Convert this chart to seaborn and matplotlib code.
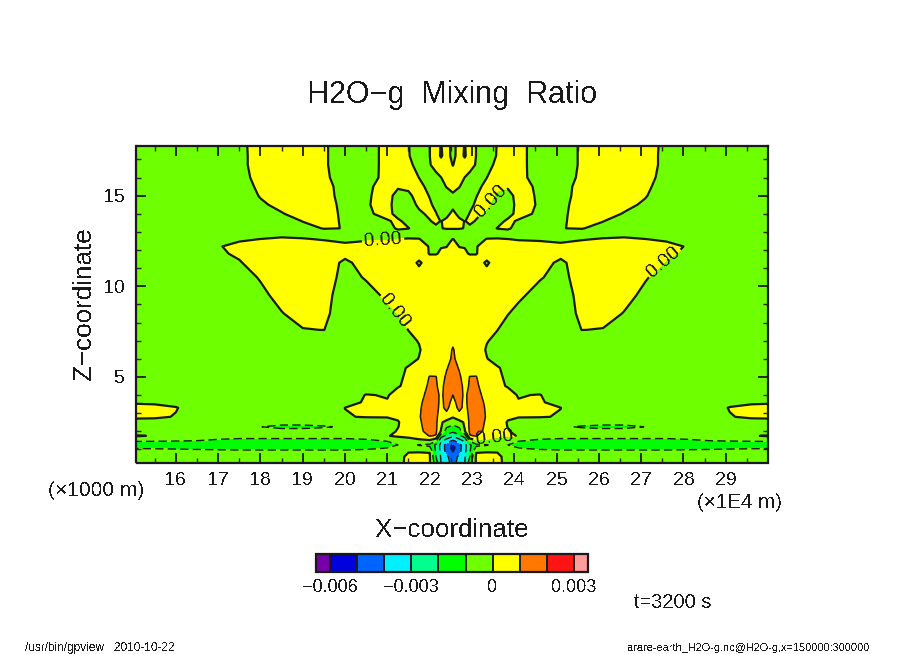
import numpy as np
import matplotlib
matplotlib.use('Agg')
import matplotlib.pyplot as plt
import seaborn as sns

# x positions of the left half (1E4 m), the field is mirrored about the last one
x_half = [15, 15.5, 16, 16.5, 17, 17.5, 18, 18.5, 19, 19.5, 20, 20.5, 21, 21.25,
          21.5, 21.75, 22, 22.15, 22.27, 22.4, 22.55]
z_rows = [17.75, 17.2, 16.7, 16, 15.5, 15, 14.5, 14, 13.6, 13.2, 12.9, 12.6, 12.2,
          11.8, 11.3, 10.5, 9.5, 8.5, 7.6, 7, 6.5, 6, 5.5, 5, 4.5, 4, 3.6, 3.3,
          2.8, 2.5, 2.25, 2, 1.75, 1.45, 1.25, 1.05, 0.85, 0.6, 0.25]

# mixing ratio, unit 1e-3, one row per z, top to bottom
mix_rows = [
    [-.5, -.5, -.5, -.5, -.5, -.2, .33, .5, .5, .1, -.4, -.3, .2, .5, .03, -.4, -.01, .4, -.05, .4, -.3],
    [-.5, -.5, -.5, -.5, -.5, -.2, .3, .5, .5, .1, -.4, -.3, .2, .5, .05, -.4, -.01, .4, -.1, .35, -.25],
    [-.5, -.5, -.5, -.5, -.5, -.2, .3, .5, .5, .1, -.4, -.3, .2, .5, .1, -.15, -.05, .25, .4, .35, -.03],
    [-.5, -.5, -.5, -.5, -.5, -.3, .28, .5, .5, .2, -.5, -.35, .25, .5, .4, -.01, -.4, -.2, -.01, .25, .4],
    [-.5, -.5, -.5, -.5, -.5, -.35, .15, .5, .5, .25, -.3, -.15, .3, .1, .1, .2, -.2, -.4, -.25, .03, .2],
    [-.5, -.5, -.5, -.5, -.5, -.45, .05, .4, .5, .25, -.25, -.1, .3, -.3, -.1, .2, -.02, -.4, -.5, -.3, -.1],
    [-.5, -.5, -.5, -.5, -.5, -.5, -.12, .2, .5, .3, -.2, -.05, .2, -.3, -.25, .1, .06, -.1, -.4, -.4, -.2],
    [-.5, -.5, -.5, -.5, -.5, -.5, -.4, -.05, .3, .2, -.1, -.1, .18, -.2, -.25, -.1, .1, .02, -.15, -.2, .18],
    [-.5, -.5, -.5, -.5, -.5, -.5, -.5, -.3, .02, .12, -.05, -.3, -.05, .1, -.2, -.3, -.03, .1, -.02, .15, .3],
    [-.5, -.5, -.5, -.5, -.5, -.5, -.5, -.5, -.2, .03, -.01, -.4, -.3, .12, .02, -.3, -.2, -.1, -.02, .05, .05],
    [-.5, -.5, -.5, -.5, -.5, -.5, -.3, -.2, -.25, -.3, -.4, -.4, -.4, -.4, -.3, -.3, -.4, -.4, -.4, -.4, -.4],
    [-.5, -.5, -.5, -.5, -.5, -.1, .01, .1, .05, -.05, -.2, -.1, -.05, .01, .05, .03, -.3, -.4, -.4, -.2, .02],
    [-.5, -.5, -.5, -.5, -.05, .2, .4, .5, .5, .3, .2, .3, .3, .35, .4, .35, -.05, -.2, -.03, -.02, .3],
    [-.5, -.5, -.5, -.5, -.1, .1, .4, .5, .5, .4, .2, .4, .5, .5, .5, .5, -.05, -.05, .1, .2, .5],
    [-.5, -.5, -.5, -.5, -.5, -.05, .3, .5, .5, .4, -.15, .3, .5, .5, .5, -.16, .5, .5, .5, .5, .5],
    [-.5, -.5, -.5, -.5, -.5, -.25, .05, .4, .5, .3, -.2, .05, .4, .5, .5, .5, .5, .5, .5, .5, .5],
    [-.5, -.5, -.5, -.5, -.5, -.5, -.15, .2, .5, .2, -.3, -.2, .1, .3, .5, .5, .5, .5, .5, .55, .55],
    [-.5, -.5, -.5, -.5, -.5, -.5, -.35, -.03, .25, .1, -.25, -.4, -.15, .02, .2, .4, .5, .5, .55, .6, .6],
    [-.5, -.5, -.5, -.5, -.5, -.5, -.5, -.3, -.03, .01, -.4, -.5, -.35, -.2, .01, .3, .5, .55, .55, .6, .6],
    [-.5, -.5, -.5, -.5, -.5, -.5, -.5, -.5, -.5, -.5, -.5, -.5, -.5, -.35, -.12, .03, .45, .5, .55, .6, .8],
    [-.5, -.5, -.5, -.5, -.5, -.5, -.5, -.5, -.5, -.5, -.5, -.5, -.5, -.45, -.4, -.05, .3, .4, .5, .6, 1.08],
    [-.5, -.5, -.5, -.5, -.5, -.5, -.5, -.5, -.5, -.5, -.5, -.5, -.5, -.3, -.2, .02, .4, .45, .55, .7, 1.15],
    [-.5, -.5, -.5, -.5, -.5, -.5, -.5, -.5, -.5, -.5, -.5, -.5, -.4, -.15, .05, .4, .7, .7, .65, .95, 1.25],
    [-.5, -.5, -.5, -.5, -.5, -.5, -.5, -.5, -.5, -.5, -.5, -.5, -.35, -.08, .08, .5, 1.03, 1.02, .75, 1.1, 1.3],
    [-.5, -.5, -.5, -.5, -.5, -.5, -.5, -.5, -.5, -.5, -.5, -.5, -.35, -.05, .15, .7, 1.1, 1.05, .85, 1.2, 1.3],
    [-.5, -.5, -.5, -.5, -.5, -.5, -.5, -.5, -.5, -.5, -.5, .04, -.05, .25, .5, .7, 1.3, 1.15, .9, 1.2, 1.0],
    [-.1, -.15, -.3, -.5, -.5, -.5, -.5, -.5, -.5, -.5, -.3, .1, .05, .4, .55, .85, 1.35, 1.2, .85, 1.2, .85],
    [.3, .25, .05, -.4, -.5, -.5, -.5, -.5, -.5, -.5, .005, .4, .5, .5, .55, .9, 1.4, 1.2, .8, 1.2, .6],
    [.1, .15, -.05, -.5, -.5, -.5, -.5, -.5, -.5, -.5, -.03, .03, .04, .1, .5, .95, 1.35, 1.2, .5, .7, .1],
    [-.2, -.4, -.5, -.5, -.5, -.55, -.55, -.6, -.6, -.55, -.4, -.35, -.3, -.05, .35, .9, 1.35, 1.2, .15, -.4, -.7],
    [-.5, -.5, -.5, -.5, -.55, -.6, -.98, -1.25, -1.25, -1.1, -.85, -.5, -.3, -.02, .3, .85, 1.35, 1.2, .1, -.9, -1.2],
    [-.5, -.5, -.5, -.5, -.5, -.55, -.55, -.6, -.6, -.6, -.55, -.5, -.2, .05, .3, .8, 1.3, 1.15, -.1, -1.5, -1.8],
    [.1, -.07, -.55, -.6, -.65, -.7, -.7, -.7, -.7, -.7, -.7, -.65, -.05, .15, .2, .5, 1.05, .95, -1.6, -2.2, -2.8],
    [-.98, -1, -1.02, -1.05, -1.2, -1.3, -1.3, -1.3, -1.3, -1.3, -1.3, -1.2, -1.0, -.75, -.4, -.3, -.3, -1, -2.9, -3.6, -4.3],
    [-1.4, -1.4, -1.5, -1.5, -1.6, -1.6, -1.6, -1.6, -1.6, -1.6, -1.6, -1.5, -1.2, -1.0, -.7, -1.05, -1.2, -2.2, -3.3, -4.4, -5.2],
    [-1, -1.02, -1.05, -1.1, -1.15, -1.2, -1.2, -1.2, -1.2, -1.2, -1.2, -1.1, -.95, -.7, -.5, -.7, -.7, -2.2, -3.3, -4.4, -5.3],
    [-.7, -.7, -.7, -.7, -.7, -.7, -.7, -.7, -.7, -.7, -.7, -.7, -.6, -.45, -.02, -.02, -.02, -2.1, -3.2, -4.3, -5],
    [-.55, -.55, -.55, -.55, -.55, -.55, -.55, -.55, -.55, -.55, -.55, -.55, -.45, -.3, .2, .5, .1, -2, -3.1, -3.8, -4.5],
    [-.5, -.5, -.5, -.5, -.5, -.5, -.5, -.5, -.5, -.5, -.5, -.5, -.4, -.25, .2, .5, .1, -1.5, -3, -3.5, -4.5],
]

levels = [-0.006, -0.005, -0.004, -0.003, -0.002, -0.001, 0, 0.001, 0.002, 0.003]
shade_colors = ['#7800aa', '#0000dc', '#0064ff', '#00f0ff', '#00ff8c', '#00ff00',
                '#6eff00', '#ffff00', '#ff7800', '#ff1414', '#ff9b9b']
bar_ticks = [-0.006, -0.003, 0, 0.003]
bar_labels = ['\u22120.006', '\u22120.003', '0', '0.003']
x_ticks = list(range(16, 30))
z_ticks = [5, 10, 15]
label_spots = [(20.9, 12.6), (21.17, 8.6), (23.53, 1.6), (23.58, 14.6), (27.55, 11.3)]

sns.set_theme(style='white')
plt.rcParams['font.family'] = ['Liberation Sans', 'DejaVu Sans']
plt.rcParams['text.antialiased'] = False

W, H = 904, 654
palette = sns.color_palette(shade_colors)

# mirror the half section
xh = np.array(x_half)
x = np.concatenate([xh, 2 * xh[-1] - xh[-2::-1]])
half = np.array(mix_rows)[::-1] * 1e-3
field = np.hstack([half, half[:, -2::-1]])
z = np.array(z_rows)[::-1]

fig = plt.figure(figsize=(W / 100, H / 100), dpi=100)
ax = fig.add_axes([136.5 / W, 1 - 462.5 / H, 631.5 / W, 316.5 / H])

cf = ax.contourf(x, z, field, levels=levels, colors=palette, extend='both', antialiased=False)
ax.contour(x, z, field, levels=[v for v in levels if v < 0], colors='k', linewidths=1,
           linestyles=[(0, (6, 3))])
ax.contour(x, z, field, levels=[v for v in levels if v > 0], colors='k', linewidths=1.1,
           linestyles='solid')
zero = ax.contour(x, z, field, levels=[0], colors='k', linewidths=1.6, linestyles='solid')
ax.clabel(zero, manual=label_spots, fmt='%.2f', fontsize=14, inline=True, inline_spacing=2)

ax.set_axisbelow(False)
ax.set_xlim(15.07, 30.0)
ax.set_ylim(0.28, 17.74)
ax.set_xticks(x_ticks)
ax.set_xticks(np.arange(15.5, 30, 1), minor=True)
ax.set_yticks(z_ticks)
ax.set_yticks(np.arange(1, 18), minor=True)
ax.tick_params(which='major', direction='in', length=7.5, width=1.3, top=True, right=True,
               bottom=True, left=True, labelsize=14, pad=7, colors='k')
ax.tick_params(which='minor', direction='in', length=3.8, width=1, top=True, right=True,
               bottom=True, left=True)
ax.tick_params(axis='y', which='major', pad=8)
for s in ax.spines.values():
    s.set_linewidth(1.6)
    s.set_color('k')

cax = fig.add_axes([316 / W, 1 - 572 / H, 272 / W, 18 / H])
cb = fig.colorbar(cf, cax=cax, orientation='horizontal', extend='both', extendrect=True,
                  extendfrac=14 / 244, drawedges=True, spacing='uniform')
cb.set_ticks(bar_ticks, labels=bar_labels)
cb.ax.tick_params(length=0, labelsize=13, pad=5, colors='k')
cb.outline.set_linewidth(1.6)
cb.outline.set_edgecolor('k')
cb.dividers.set_color('k')
cb.dividers.set_linewidth(1.4)


def put(px, py, s, size, ha='center', rot=0):
    fig.text(px / W, 1 - py / H, s, fontsize=size, ha=ha, va='center', rotation=rot, color='k')


put(452, 95, 'H2O\u2212g  Mixing  Ratio', 22)
put(452, 530, 'X\u2212coordinate', 18.6)
put(84, 304, 'Z\u2212coordinate', 18.7, rot=90)
put(96, 490, '(\u00d71000 m)', 15)
put(739, 502, '(\u00d71E4 m)', 14.8)
put(634, 603, 't=3200 s', 14.4, ha='left')
put(25, 648, '/usr/bin/gpview   2010-10-22', 8.6, ha='left')
put(628, 648, 'arare-earth_H2O-g.nc@H2O-g,x=150000:300000', 7.95, ha='left')

fig.savefig('out.png', dpi=100, facecolor='white')
